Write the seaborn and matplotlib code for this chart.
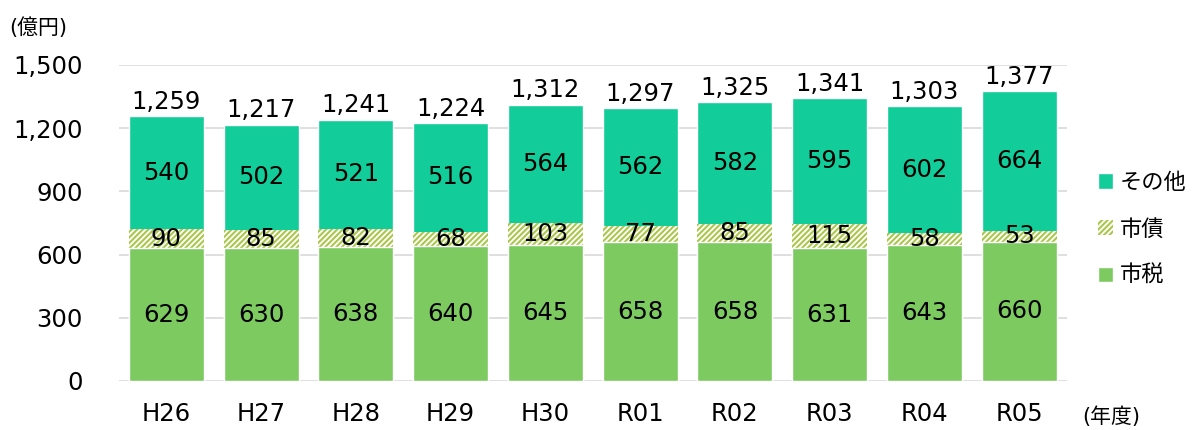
import matplotlib
matplotlib.use('Agg')
import pandas as pd
from matplotlib import pyplot as plt
from matplotlib.patches import Patch
import seaborn as sns

years = ['H26', 'H27', 'H28', 'H29', 'H30', 'R01', 'R02', 'R03', 'R04', 'R05']
shizei = [629, 630, 638, 640, 645, 658, 658, 631, 643, 660]
shisai = [90, 85, 82, 68, 103, 77, 85, 115, 58, 53]
sonota = [540, 502, 521, 516, 564, 562, 582, 595, 602, 664]
yticks = [0, 300, 600, 900, 1200, 1500]

df = pd.DataFrame({'year': years, 'shizei': shizei, 'shisai': shisai, 'sonota': sonota})
df['low2'] = df.shizei + df.shisai
df['total'] = df.low2 + df.sonota

sns.set_style('white')
plt.rcParams['font.family'] = ['DejaVu Sans', 'Noto Sans CJK JP']
plt.rcParams['hatch.linewidth'] = 1.5
plt.rcParams['text.color'] = 'black'
plt.rcParams['xtick.color'] = 'black'
plt.rcParams['ytick.color'] = 'black'

c_sonota = '#12CD99'
c_shisai = '#A9C84B'
c_shizei = '#7DCA60'
hatch = '//////'

fig = plt.figure(figsize=(11.92, 4.3), dpi=100)
ax = fig.add_axes([0.0998, 0.114, 0.795, 0.735])

# stacked bars drawn back to front (total, 市税+市債, 市税)
w = 0.79
sns.barplot(data=df, x='year', y='total', color=c_sonota, width=w, saturation=1, ax=ax)
sns.barplot(data=df, x='year', y='low2', color='white', width=w, saturation=1, ax=ax,
            hatch=hatch, edgecolor=c_shisai, linewidth=0)
sns.barplot(data=df, x='year', y='shizei', color=c_shizei, width=w, saturation=1, ax=ax)

fs = 17.5
for i, r in df.iterrows():
    ax.text(i, r.shizei / 2, f'{r.shizei}', ha='center', va='center', fontsize=fs)
    ax.text(i, r.shizei + r.shisai / 2, f'{r.shisai}', ha='center', va='center', fontsize=fs)
    ax.text(i, r.low2 + r.sonota / 2, f'{r.sonota}', ha='center', va='center', fontsize=fs)
    ax.text(i, r.total + 10, f'{r.total:,}', ha='center', va='bottom', fontsize=fs)

ax.set_ylim(0, 1500)
ax.set_xlim(-0.5, 9.5)
ax.set_yticks(yticks)
ax.set_yticklabels([f'{v:,}' for v in yticks])
ax.yaxis.grid(True, color='#d9d9d9', linewidth=1.2)
ax.set_axisbelow(True)
sns.despine(ax=ax, left=True, bottom=True)
ax.tick_params(axis='y', length=0, pad=26, labelsize=fs)
ax.tick_params(axis='x', length=0, pad=15, labelsize=fs)
ax.set_xlabel('')
ax.set_ylabel('')

fig.text(0.008, 0.935, '(億円)', fontsize=15, va='center', ha='left')
fig.text(0.908, 0.03, '(年度)', fontsize=15, va='center', ha='left')

handles = [Patch(facecolor=c_sonota, label='その他'),
           Patch(facecolor='white', edgecolor=c_shisai, hatch=hatch, linewidth=0, label='市債'),
           Patch(facecolor=c_shizei, label='市税')]
ax.legend(handles=handles, loc='center left', bbox_to_anchor=(1.033, 0.48), frameon=False,
          borderpad=0, borderaxespad=0, fontsize=16, labelspacing=1.15,
          handlelength=0.7, handleheight=0.7, handletextpad=0.3)

fig.savefig('out.png', dpi=100)
